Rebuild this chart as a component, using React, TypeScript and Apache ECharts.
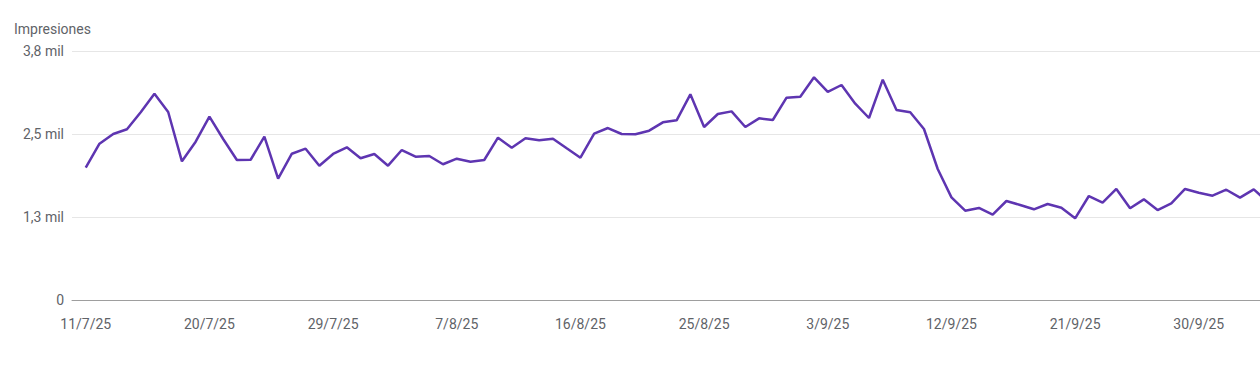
import React, { useEffect, useRef } from "react";
import * as echarts from "echarts";

const dates: string[] = [
  "11/7/25", "12/7/25", "13/7/25", "14/7/25", "15/7/25", "16/7/25", "17/7/25", "18/7/25", "19/7/25", "20/7/25",
  "21/7/25", "22/7/25", "23/7/25", "24/7/25", "25/7/25", "26/7/25", "27/7/25", "28/7/25", "29/7/25", "30/7/25",
  "31/7/25", "1/8/25", "2/8/25", "3/8/25", "4/8/25", "5/8/25", "6/8/25", "7/8/25", "8/8/25", "9/8/25",
  "10/8/25", "11/8/25", "12/8/25", "13/8/25", "14/8/25", "15/8/25", "16/8/25", "17/8/25", "18/8/25", "19/8/25",
  "20/8/25", "21/8/25", "22/8/25", "23/8/25", "24/8/25", "25/8/25", "26/8/25", "27/8/25", "28/8/25", "29/8/25",
  "30/8/25", "31/8/25", "1/9/25", "2/9/25", "3/9/25", "4/9/25", "5/9/25", "6/9/25", "7/9/25", "8/9/25",
  "9/9/25", "10/9/25", "11/9/25", "12/9/25", "13/9/25", "14/9/25", "15/9/25", "16/9/25", "17/9/25", "18/9/25",
  "19/9/25", "20/9/25", "21/9/25", "22/9/25", "23/9/25", "24/9/25", "25/9/25", "26/9/25", "27/9/25", "28/9/25",
  "29/9/25", "30/9/25", "1/10/25", "2/10/25", "3/10/25", "4/10/25", "5/10/25",
];

const impressions: number[] = [
  1992, 2354, 2500, 2571, 2827, 3107, 2831, 2089, 2384, 2761,
  2425, 2108, 2112, 2459, 1827, 2203, 2279, 2023, 2199, 2300,
  2134, 2199, 2023, 2259, 2158, 2169, 2044, 2128, 2083, 2108,
  2444, 2294, 2435, 2405, 2429, 2285, 2143, 2505, 2590, 2500,
  2495, 2550, 2676, 2706, 3098, 2605, 2801, 2841, 2605, 2736,
  2711, 3047, 3062, 3354, 3133, 3238, 2956, 2741, 3318, 2861,
  2827, 2575, 1973, 1546, 1345, 1386, 1285, 1491, 1431, 1366,
  1446, 1390, 1230, 1566, 1466, 1672, 1381, 1516, 1355, 1456,
  1672, 1616, 1571, 1661, 1541, 1667, 1480,
];

const yMin = 0;
const yMax = 3750;
const yStep = 1250;
const seriesName = "Impresiones";

function formatY(v: number): string {
  if (v === 0) return "0";
  return (v / 1000).toFixed(1).replace(".", ",") + " mil";
}

export default function App() {
  const ref = useRef<HTMLDivElement>(null);

  useEffect(() => {
    if (!ref.current) return;
    const chart = echarts.init(ref.current, undefined, { renderer: "svg" });
    chart.setOption({
      animation: false,
      backgroundColor: "#ffffff",
      title: {
        text: seriesName,
        left: 14,
        top: 22,
        padding: 0,
        textStyle: {
          fontFamily: "Roboto",
          fontSize: 14,
          fontWeight: "normal",
          color: "#5f6368",
        },
      },
      grid: { left: 72, right: 22.5, top: 51, bottom: 67, containLabel: false },
      xAxis: {
        type: "category",
        boundaryGap: false,
        data: ["", ...dates],
        axisLine: { lineStyle: { color: "#9e9e9e", width: 1 } },
        axisTick: { show: false },
        splitLine: { show: false },
        axisLabel: {
          interval: (i: number) => i > 0 && (i - 1) % 9 === 0,
          margin: 17,
          fontFamily: "Roboto",
          fontSize: 14,
          color: "#5f6368",
        },
      },
      yAxis: {
        type: "value",
        min: yMin,
        max: yMax,
        interval: yStep,
        axisLine: { show: false },
        axisTick: { show: false },
        splitLine: { lineStyle: { color: "#e6e6e6", width: 1 } },
        axisLabel: {
          formatter: formatY,
          margin: 8,
          fontFamily: "Roboto",
          fontSize: 14,
          color: "#5f6368",
        },
      },
      series: [
        {
          name: seriesName,
          type: "line",
          data: [null, ...impressions],
          showSymbol: false,
          symbol: "none",
          lineStyle: { color: "#5e35b1", width: 2.5 },
          itemStyle: { color: "#5e35b1" },
        },
      ],
    });
    return () => chart.dispose();
  }, []);

  return (
    <div
      style={{
        position: "absolute",
        left: 0,
        top: 0,
        width: 1260,
        height: 367,
        overflow: "hidden",
        background: "#ffffff",
      }}
    >
      <div ref={ref} style={{ width: 1290, height: 367 }} />
    </div>
  );
}
